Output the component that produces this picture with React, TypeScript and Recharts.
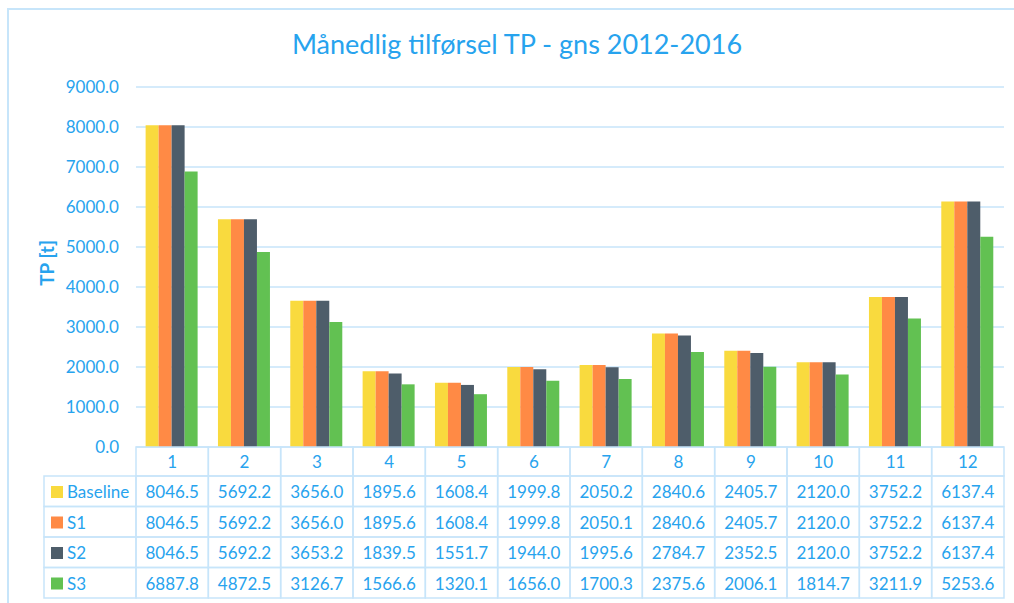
import { Bar, BarChart, CartesianGrid, XAxis, YAxis } from "recharts";

const months = ["1", "2", "3", "4", "5", "6", "7", "8", "9", "10", "11", "12"];
const baseline = [8046.5, 5692.2, 3656.0, 1895.6, 1608.4, 1999.8, 2050.2, 2840.6, 2405.7, 2120.0, 3752.2, 6137.4];
const s1 = [8046.5, 5692.2, 3656.0, 1895.6, 1608.4, 1999.8, 2050.1, 2840.6, 2405.7, 2120.0, 3752.2, 6137.4];
const s2 = [8046.5, 5692.2, 3653.2, 1839.5, 1551.7, 1944.0, 1995.6, 2784.7, 2352.5, 2120.0, 3752.2, 6137.4];
const s3 = [6887.8, 4872.5, 3126.7, 1566.6, 1320.1, 1656.0, 1700.3, 2375.6, 2006.1, 1814.7, 3211.9, 5253.6];
const yTicks = [0, 1000, 2000, 3000, 4000, 5000, 6000, 7000, 8000, 9000];

const series = [
  { key: "baseline", name: "Baseline", values: baseline, color: "#F9DA3E" },
  { key: "s1", name: "S1", values: s1, color: "#FF8A45" },
  { key: "s2", name: "S2", values: s2, color: "#4E5D6A" },
  { key: "s3", name: "S3", values: s3, color: "#62C152" },
];

const data = months.map((m, i) => {
  const row: Record<string, string | number> = { month: m };
  series.forEach((s) => (row[s.key] = s.values[i]));
  return row;
});

const W = 1014;
const H = 603;
const PLOT_RIGHT = 1004;
const PLOT_LEFT = 136;
const COL_W = (PLOT_RIGHT - PLOT_LEFT) / months.length;
const HEAD_H = 29;
const ROW_H = 30.5;
const LEGEND_LEFT = 44;

const BLUE = "#27A3EE";
const LINE = "#C7E5FA";
const FONT = "Lato, 'Open Sans', sans-serif";
const FS = 17;

function TableTick(props: any) {
  const { x, y, payload, index } = props;
  const left = x - COL_W / 2;
  return (
    <g>
      <rect x={left} y={y} width={COL_W} height={HEAD_H} fill="none" stroke={LINE} strokeWidth={1.5} />
      <text x={x} y={y + 21} textAnchor="middle" fill={BLUE} fontSize={FS} fontFamily={FONT}>
        {payload.value}
      </text>
      {series.map((s, r) => {
        const top = y + HEAD_H + r * ROW_H;
        return (
          <g key={s.key}>
            <rect x={left} y={top} width={COL_W} height={ROW_H} fill="none" stroke={LINE} strokeWidth={1.5} />
            <text x={x} y={top + 22} textAnchor="middle" fill={BLUE} fontSize={FS} fontFamily={FONT}>
              {s.values[index].toFixed(1)}
            </text>
            {index === 0 && (
              <g>
                <rect x={LEGEND_LEFT} y={top} width={left - LEGEND_LEFT} height={ROW_H} fill="none" stroke={LINE} strokeWidth={1.5} />
                <rect x={LEGEND_LEFT + 7} y={top + 10} width={12} height={12} fill={s.color} />
                <text x={LEGEND_LEFT + 23} y={top + 22} fill={BLUE} fontSize={FS} fontFamily={FONT}>
                  {s.name}
                </text>
              </g>
            )}
          </g>
        );
      })}
    </g>
  );
}

export default function App() {
  return (
    <div style={{ position: "absolute", left: 0, top: 0, width: W, height: H, overflow: "hidden", background: "#fff", fontFamily: FONT }}>
      <div
        style={{
          position: "absolute",
          left: 7,
          top: 8,
          width: W,
          height: H,
          border: `2px solid ${LINE}`,
          boxSizing: "border-box",
        }}
      />
      <div
        style={{
          position: "absolute",
          left: 0,
          top: 25,
          width: W + 20,
          textAlign: "center",
          color: BLUE,
          fontSize: 27,
          lineHeight: "38px",
        }}
      >
        Månedlig tilførsel TP - gns 2012-2016
      </div>
      <div style={{ position: "absolute", left: 0, top: 0 }}>
        <BarChart
          width={W}
          height={H}
          data={data}
          margin={{ top: 87, right: W - PLOT_RIGHT, bottom: 0, left: 36 }}
          barCategoryGap="13.3%"
          barGap={0}
        >
          <CartesianGrid vertical={false} stroke={LINE} strokeWidth={1.5} />
          <XAxis
            dataKey="month"
            height={H - 447}
            interval={0}
            axisLine={false}
            tickLine={false}
            tickSize={0}
            tickMargin={0}
            tick={(p: any) => <TableTick {...p} />}
          />
          <YAxis
            width={100}
            domain={[0, 9000]}
            ticks={yTicks}
            interval={0}
            axisLine={false}
            tickLine={false}
            tickSize={0}
            tickMargin={17}
            tickFormatter={(v: number) => v.toFixed(1)}
            tick={{ fill: BLUE, fontSize: FS, fontFamily: FONT }}
            label={{
              content: (p: any) => (
                <text
                  x={0}
                  y={0}
                  transform={`translate(${p.viewBox.x + 18}, ${p.viewBox.y + p.viewBox.height / 2 - 4}) rotate(-90)`}
                  textAnchor="middle"
                  fill={BLUE}
                  fontSize={19}
                  fontWeight="bold"
                  fontFamily={FONT}
                >
                  TP [t]
                </text>
              ),
            }}
          />
          {series.map((s) => (
            <Bar key={s.key} dataKey={s.key} name={s.name} fill={s.color} isAnimationActive={false} />
          ))}
        </BarChart>
      </div>
    </div>
  );
}
